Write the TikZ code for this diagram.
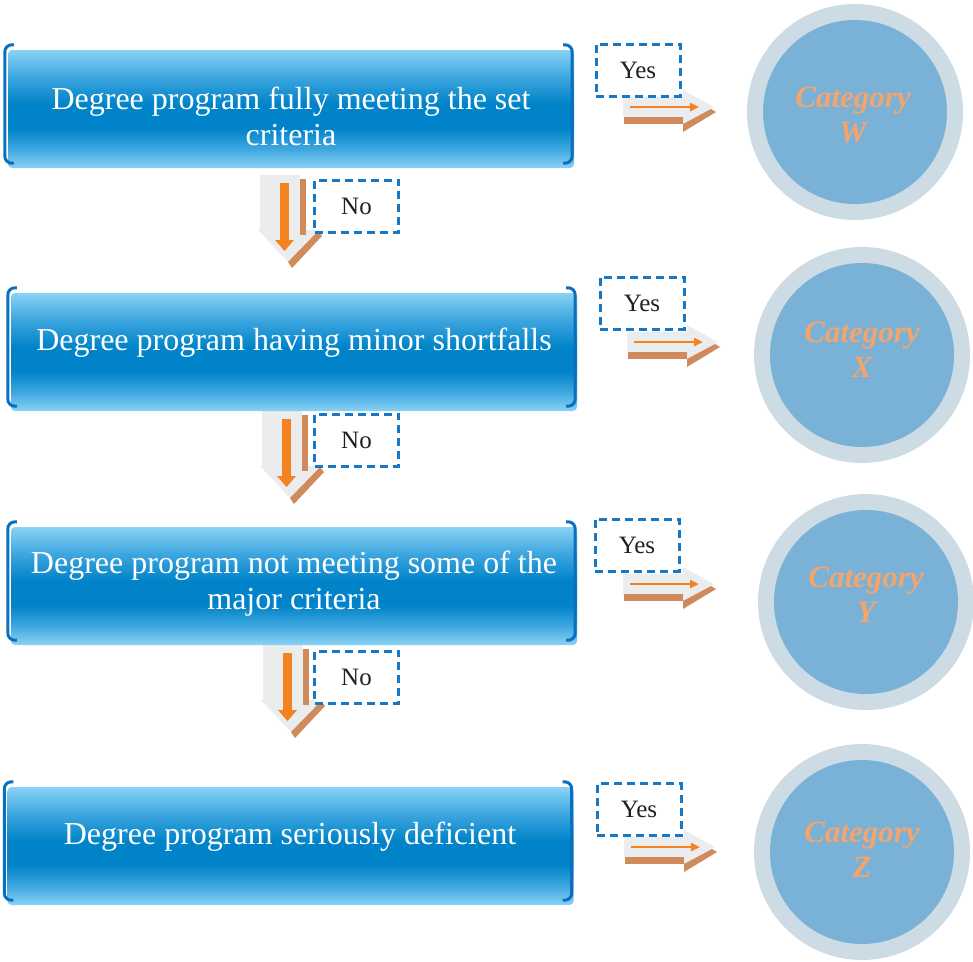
\documentclass[tikz,border=0pt]{standalone}
\usepackage{fontspec}
\setmainfont{Liberation Serif}
\usetikzlibrary{arrows.meta,calc}
\definecolor{boxlight}{HTML}{8AD3F4}
\definecolor{boxmid}{HTML}{3FA7E0}
\definecolor{boxdark}{HTML}{0083C8}
\definecolor{brk}{HTML}{0A6FBE}
\definecolor{dashc}{HTML}{1579C8}
\definecolor{ringc}{HTML}{CDDBE4}
\definecolor{discc}{HTML}{7AB2D7}
\definecolor{catc}{HTML}{F5A46C}
\definecolor{agray}{HTML}{EBECEE}
\definecolor{aorange}{HTML}{F58220}
\definecolor{abrown}{HTML}{D08B5C}
\definecolor{txtc}{HTML}{231F20}
\pgfdeclareverticalshading{boxshade}{100bp}{color(0bp)=(boxlight); color(25bp)=(boxlight); color(33bp)=(boxmid); color(42bp)=(boxdark); color(52bp)=(boxdark); color(64bp)=(boxmid); color(75bp)=(boxlight); color(100bp)=(boxlight)}
\tikzset{
  pbox/.style={rectangle, rounded corners=4pt, shading=boxshade, minimum width=566pt, minimum height=118pt, inner sep=0pt},
  ptext/.style={text=white, align=center, font=\fontsize{32}{36}\selectfont, inner sep=0pt},
  brack/.style={draw=brk, line width=3pt, rounded corners=7pt},
  dbox/.style={draw=dashc, line width=3pt, dash pattern=on 8pt off 5pt, fill=white, minimum width=84pt, minimum height=52pt, inner sep=0pt, font=\fontsize{25}{28}\selectfont, text=txtc},
  ring/.style={circle, fill=ringc, minimum size=216pt, inner sep=0pt},
  disc/.style={circle, fill=discc, minimum size=184pt, inner sep=0pt},
  cat/.style={text=catc, align=center, font=\fontsize{31}{35}\selectfont\bfseries\itshape, inner sep=0pt},
  rarrow/.pic={
    \fill[agray] (0,-10) rectangle (60,10);
    \fill[agray] (60,-17) -- (91,0) -- (60,17) -- cycle;
    \fill[abrown] (1,10) rectangle (60,17);
    \fill[abrown] (60,17) -- (88,2) -- (93,5) -- (60,25) -- cycle;
    \draw[aorange, line width=2.5pt, -{Triangle[length=9pt,width=8pt]}] (7,0) -- (76,0);
  },
  darrow/.pic={
    \fill[agray] (0,0) rectangle (40,55);
    \fill[agray] (-2,55) -- (58,55) -- (28,87) -- cycle;
    \fill[abrown] (40,4) rectangle (46,60);
    \fill[abrown] (58,56) -- (62,61) -- (32,93) -- (28,87) -- cycle;
    \fill[aorange] (20,8) rectangle (29,65);
    \fill[aorange] (15,65) -- (34,65) -- (24.5,76) -- cycle;
  }
}
\newcommand{\boxbrackets}[1]{%
  \draw[brack] ($(#1.north west)+(6,-5)$) -- ($(#1.north west)+(-3,-5)$) -- ($(#1.south west)+(-3,-5)$) -- ($(#1.south west)+(6,-5)$);
  \draw[brack] ($(#1.north east)+(-11,-5)$) -- ($(#1.north east)+(-2,-5)$) -- ($(#1.south east)+(-2,-5)$) -- ($(#1.south east)+(-11,-5)$);
}
\begin{document}
\begin{tikzpicture}[x=1pt,y=-1pt]
\useasboundingbox (0,0) rectangle (973,961);
% arrow anchors
\coordinate (da1) at (260,175);
\coordinate (da2) at (262,411);
\coordinate (da3) at (263,645);
\coordinate (ra1) at (623,107);
\coordinate (ra2) at (627,342);
\coordinate (ra3) at (623,584);
\coordinate (ra4) at (624,847);
\pic at (da1) {darrow};
\pic at (da2) {darrow};
\pic at (da3) {darrow};
\pic at (ra1) {rarrow};
\pic at (ra2) {rarrow};
\pic at (ra3) {rarrow};
\pic at (ra4) {rarrow};
% program boxes
\node[pbox] (b1) at (291,109) {};
\node[pbox] (b2) at (294,352) {};
\node[pbox] (b3) at (294,586) {};
\node[pbox] (b4) at (290.5,846) {};
\boxbrackets{b1}
\boxbrackets{b2}
\boxbrackets{b3}
\boxbrackets{b4}
\node[ptext] (t1) at (291,116) {Degree program fully meeting the set\\criteria};
\node[ptext] (t2) at (294,343) {Degree program having minor shortfalls};
\node[ptext] (t3) at (294,584) {Degree program not meeting some of the\\major criteria};
\node[ptext] (t4) at (290,837) {Degree program seriously deficient};
% yes / no boxes
\node[dbox] (y1) at (638,70) {Yes};
\node[dbox] (y2) at (642,303) {Yes};
\node[dbox] (y3) at (637,545) {Yes};
\node[dbox] (y4) at (639,809.5) {Yes};
\node[dbox] (n1) at (356.5,206) {No};
\node[dbox] (n2) at (356.5,440) {No};
\node[dbox] (n3) at (356.5,677) {No};
% category circles
\node[ring] (cW) at (855,112) {};
\node[disc] (dW) at (cW) {};
\node[cat] (tW) at (853,114.5) {Category\\W};
\node[ring] (cX) at (862,355) {};
\node[disc] (dX) at (cX) {};
\node[cat] (tX) at (862,350) {Category\\X};
\node[ring] (cY) at (866,602) {};
\node[disc] (dY) at (cY) {};
\node[cat] (tY) at (866,595) {Category\\Y};
\node[ring] (cZ) at (862,852) {};
\node[disc] (dZ) at (cZ) {};
\node[cat] (tZ) at (862,850) {Category\\Z};
\end{tikzpicture}
\end{document}
